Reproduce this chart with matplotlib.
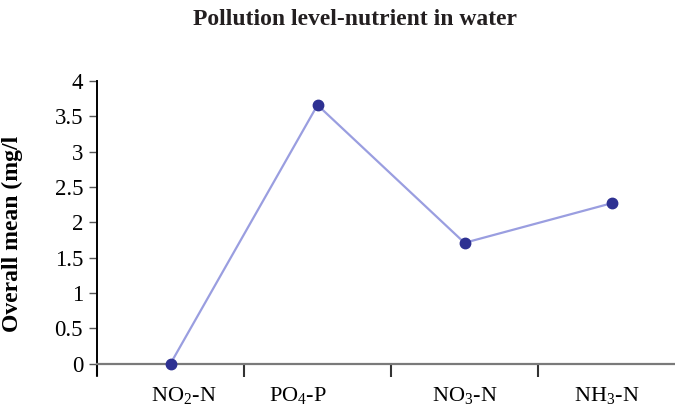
import matplotlib.pyplot as plt
import numpy as np

plt.rcParams['font.family'] = 'Liberation Serif'
plt.rcParams['mathtext.fontset'] = 'stix'

categories = [r'NO$\mathregular{_2}$-N', r'PO$\mathregular{_4}$-P', r'NO$\mathregular{_3}$-N', r'NH$\mathregular{_3}$-N']
values = [0.0, 3.66, 1.71, 2.27]
# labels in the source sit a bit off the category centres
label_shift = [0.09, -0.13, 0.0, -0.03]
yticks = np.arange(0, 4.01, 0.5)
ytick_labels = ['0', '0.5', '1', '1.5', '2', '2.5', '3', '3.5', '4']

fig = plt.figure(figsize=(6.75, 4.13), dpi=100)
ax = fig.add_axes([97 / 675, 1 - 375 / 413, 1 - 97 / 675, (375 - 81) / 413])

x = np.arange(len(categories))
ax.plot(x, values, color='#9a9ee0', linewidth=1.6, zorder=2)
ax.plot(x, values, linestyle='none', marker='o', markersize=7.5,
        color='#2e3192', zorder=3, clip_on=False)

for s in ['top', 'right']:
    ax.spines[s].set_visible(False)
ax.spines['bottom'].set_position(('data', 0))
ax.spines['bottom'].set_color('#7a7a7a')
ax.spines['bottom'].set_linewidth(1.6)
ax.spines['left'].set_linewidth(1.4)

ax.set_yticks(yticks)
ax.set_yticklabels(ytick_labels, fontsize=16.5)
ax.tick_params(axis='y', direction='out', length=6, width=1, color='#555555', pad=4)

# boundary tick marks, labels placed separately
ax.set_xticks(np.arange(len(categories) + 1) - 0.5)
ax.set_xticklabels([])
ax.tick_params(axis='x', which='major', direction='out', length=9, width=1.5, color='#333333')
ax.set_xticks(x + np.array(label_shift), minor=True)
ax.set_xticklabels(categories, minor=True, fontsize=16)
ax.tick_params(axis='x', which='minor', length=0, pad=15)

ax.set_xlim(-0.5, (675 - 170.5) / 147)
ax.set_ylim(-0.16, 4)

ax.set_ylabel('Overall mean (mg/l', fontsize=17, fontweight='bold')
ax.yaxis.set_label_coords(-0.128, 0.48)

fig.text(0.526, 0.953, 'Pollution level-nutrient in water', ha='center', va='center',
         fontsize=17, fontweight='bold', color='#231f20')

plt.savefig('out.png', dpi=100, facecolor='white')
